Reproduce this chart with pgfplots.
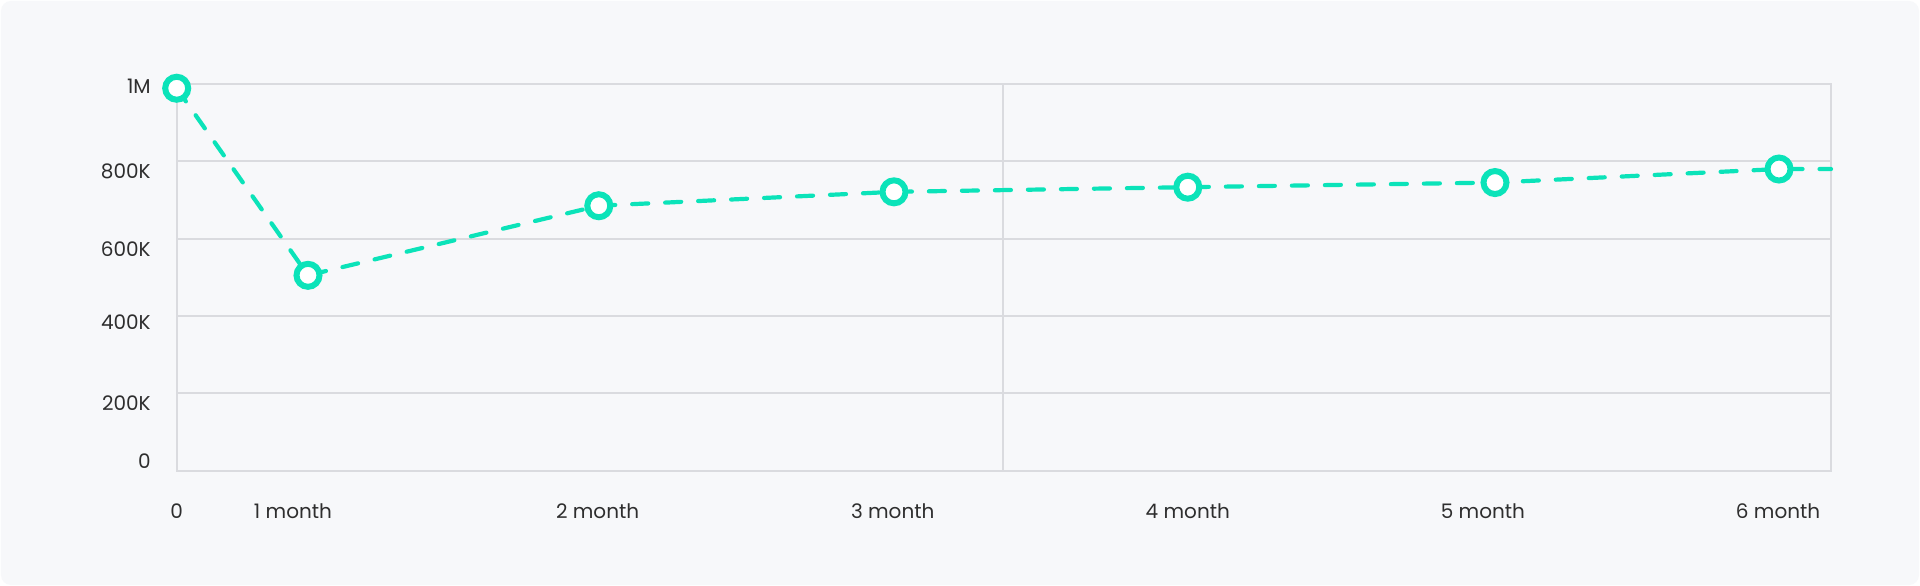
\documentclass[border=0pt]{standalone}
\usepackage{pgfplots}
\pgfplotsset{compat=1.18}
\usepackage{fontspec}
\setmainfont{Poppins}
\definecolor{bgc}{HTML}{F7F8FA}
\definecolor{gridc}{HTML}{DADBDF}
\definecolor{linec}{HTML}{0BE3B9}
\definecolor{txt}{HTML}{2E2E2E}
\begin{document}
\begin{tikzpicture}
\fill[white] (0,0) rectangle (960bp,293bp);
\fill[bgc, rounded corners=5bp] (0.5bp,0.5bp) rectangle (959.5bp,292.5bp);
\begin{axis}[
  at={(88.35bp,57.75bp)}, anchor=south west,
  scale only axis, width=827.15bp, height=193.25bp,
  xmin=176.7, xmax=1831, ymin=0, ymax=1000000,
  clip=false,
  axis line style={draw=gridc, line width=1bp},
  xtick={176.7,293,597.6,892.7,1187.8,1482.9,1778},
  xticklabels={0,1 month,2 month,3 month,4 month,5 month,6 month},
  ytick={23000,175000,385000,572000,775000,993000},
  yticklabels={0,200K,400K,600K,800K,1M},
  major tick length=0pt,
  extra y ticks={0,200000,400000,600000,800000,1000000},
  extra y tick labels={},
  extra y tick style={grid=major, major grid style={draw=gridc, line width=1bp}},
  extra x ticks={1003},
  extra x tick labels={},
  extra x tick style={grid=major, major grid style={draw=gridc, line width=1bp}},
  scaled y ticks=false,
  tick label style={font=\fontsize{10bp}{12bp}\selectfont, text=txt, inner sep=0pt},
  yticklabel style={anchor=east, xshift=-12.8bp},
  xticklabel style={anchor=center, yshift=-20.5bp},
]
\addplot[draw=linec, line width=2.1bp, dash pattern=on 8bp off 8.5bp, line cap=round, mark=none]
  coordinates {(176.7,989000) (308,505000) (598.8,685000) (894,721000) (1187.8,733000) (1495,745000) (1779,780000) (1831,780000)};
\addplot[only marks, mark=*, mark size=5.75bp, mark options={solid, fill=white, draw=linec, line width=3bp}]
  coordinates {(176.7,989000) (308,505000) (598.8,685000) (894,721000) (1187.8,733000) (1495,745000) (1779,780000)};
\end{axis}
\end{tikzpicture}
\end{document}
